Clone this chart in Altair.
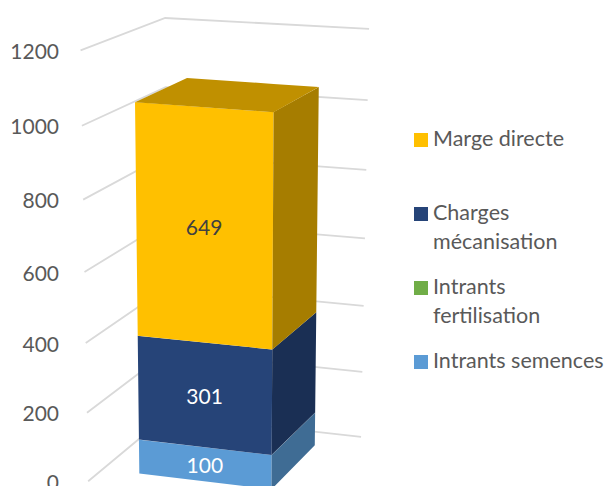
import altair as alt
import numpy as np
import pandas as pd

# ---- chart values -------------------------------------------------
series = ["Intrants semences", "Intrants fertilisation", "Charges mécanisation", "Marge directe"]
values = [100, 0, 301, 649]
legend_lines = [["Marge directe"], ["Charges", "mécanisation"], ["Intrants", "fertilisation"], ["Intrants semences"]]
legend_colors = ["#FFC000", "#264478", "#70AD47", "#5B9BD5"]
front_colors = ["#5B9BD5", "#70AD47", "#264478", "#FFC000"]
side_colors = ["#3F6C94", "#4E7A32", "#1A2F54", "#A67D00"]
top_color = "#C09000"
label_colors = ["#FFFFFF", "#FFFFFF", "#FFFFFF", "#404040"]
ticks = [0, 200, 400, 600, 800, 1000, 1200]
grid_color = "#D9D9D9"
text_color = "#595959"
font = "Lato"

# ---- 3D look: perspective cameras calibrated on the frame and the bar
def fit(world, image):
    rows = []
    for (a, b, c), (x, y) in zip(world, image):
        rows.append([a, b, c / 1000, 1, 0, 0, 0, 0, -x * a, -x * b, -x * c / 1000, -x])
        rows.append([0, 0, 0, 0, a, b, c / 1000, 1, -y * a, -y * b, -y * c / 1000, -y])
    return np.linalg.svd(np.array(rows, float))[2][-1].reshape(3, 4)

def project(P, a, b, c):
    q = P @ np.array([a, b, c / 1000, 1.0])
    return float(q[0] / q[2]), float(q[1] / q[2])

bar_cam = fit(
    [(0, 0, 0), (1, 0, 0), (1, 1, 0), (0, 0, 100), (1, 0, 100), (1, 1, 100),
     (0, 0, 401), (1, 0, 401), (1, 1, 401), (0, 0, 1050), (1, 0, 1050), (1, 1, 1050), (0, 1, 1050)],
    [(139, 473), (272, 489), (315, 445), (138.5, 440), (272, 455), (315, 413),
     (138, 336), (272, 350), (316, 312), (135.5, 102), (273, 112), (319, 87), (187, 78)],
)
wall_cam = fit(
    [(0, 0, v) for v in ticks] + [(1, 1, v) for v in ticks] + [(0, 1, 0), (0, 1, 1200)],
    [(88, 481), (87, 413), (86, 343), (84, 272), (83, 200), (82, 126), (81, 50)]
    + [(361, 437), (363, 372), (363, 306), (365, 238), (366, 170), (368, 100), (369, 29)]
    + [(168, 415), (165, 18)],
)

def envelope(poly):
    xs = sorted({round(p[0], 3) for p in poly})
    out = []
    n = len(poly)
    for x in xs:
        ys = []
        for i in range(n):
            (x1, y1), (x2, y2) = poly[i], poly[(i + 1) % n]
            if min(x1, x2) - 1e-3 <= x <= max(x1, x2) + 1e-3:
                if abs(x2 - x1) < 1e-6:
                    ys += [y1, y2]
                else:
                    ys.append(y1 + (y2 - y1) * (x - x1) / (x2 - x1))
        out.append({"x": x, "y": min(ys), "y2": max(ys)})
    return out

X = alt.X("x:Q", axis=None, scale=alt.Scale(domain=[8, 606], nice=False, zero=False))
Y = alt.Y("y:Q", axis=None, scale=alt.Scale(domain=[486, 8], nice=False, zero=False))

def face(poly, color):
    return (
        alt.Chart(pd.DataFrame(envelope(poly)))
        .mark_area(color=color, clip=True, interpolate="linear", stroke=None)
        .encode(x=X, y=Y, y2="y2:Q")
    )

layers = []

# gridlines on the left and back walls
for v in ticks:
    a = project(wall_cam, 0, 0, v)
    b = project(wall_cam, 0, 1, v)
    c = project(wall_cam, 1, 1, v)
    layers.append(
        alt.Chart(pd.DataFrame({"x": [a[0], b[0], c[0]], "y": [a[1], b[1], c[1]], "o": [0, 1, 2]}))
        .mark_line(color=grid_color, strokeWidth=1.8, clip=True)
        .encode(x=X, y=Y, order="o:Q")
    )

# stacked column
base = 0
label_rows = []
for val, fc, sc, lc in zip(values, front_colors, side_colors, label_colors):
    top = base + val
    if val > 0:
        layers.append(face([project(bar_cam, 0, 0, base), project(bar_cam, 1, 0, base),
                            project(bar_cam, 1, 0, top), project(bar_cam, 0, 0, top)], fc))
        layers.append(face([project(bar_cam, 1, 0, base), project(bar_cam, 1, 1, base),
                            project(bar_cam, 1, 1, top), project(bar_cam, 1, 0, top)], sc))
        lx, ly = project(bar_cam, 0.5, 0, base + val / 2)
        label_rows.append({"x": lx, "y": ly + 2.5, "t": str(val), "c": lc})
    base = top
layers.append(face([project(bar_cam, 0, 0, base), project(bar_cam, 1, 0, base),
                    project(bar_cam, 1, 1, base), project(bar_cam, 0, 1, base)], top_color))

# value labels
layers.append(
    alt.Chart(pd.DataFrame(label_rows))
    .mark_text(font=font, fontSize=21, align="center", baseline="middle")
    .encode(x=X, y=Y, text="t:N", color=alt.Color("c:N", scale=None))
)

# value-axis labels
tick_rows = [{"x": 59, "y": project(wall_cam, 0, 0, v)[1] + 2.5, "t": str(v)} for v in ticks]
layers.append(
    alt.Chart(pd.DataFrame(tick_rows))
    .mark_text(font=font, fontSize=21, align="right", baseline="middle", color=text_color)
    .encode(x=X, y=Y, text="t:N")
)

# legend
sym_rows, txt_rows = [], []
sym_y = [140, 214, 288, 362]
for lines, col, sy in zip(legend_lines, legend_colors, sym_y):
    sym_rows.append({"x": 421, "y": sy, "c": col})
    for i, ln in enumerate(lines):
        txt_rows.append({"x": 433, "y": sy + i * 29, "t": ln})
layers.append(
    alt.Chart(pd.DataFrame(sym_rows))
    .mark_square(size=196, opacity=1)
    .encode(x=X, y=Y, color=alt.Color("c:N", scale=None))
)
layers.append(
    alt.Chart(pd.DataFrame(txt_rows))
    .mark_text(font=font, fontSize=21.5, align="left", baseline="middle", color=text_color)
    .encode(x=X, y=Y, text="t:N")
)

chart = (
    alt.layer(*layers)
    .properties(width=598, height=478, padding=0, autosize=alt.AutoSizeParams(type="none"),
                background="#FFFFFF")
    .configure_view(stroke=None)
)
chart.save("out.html", embed_options={"renderer": "svg", "actions": False})
